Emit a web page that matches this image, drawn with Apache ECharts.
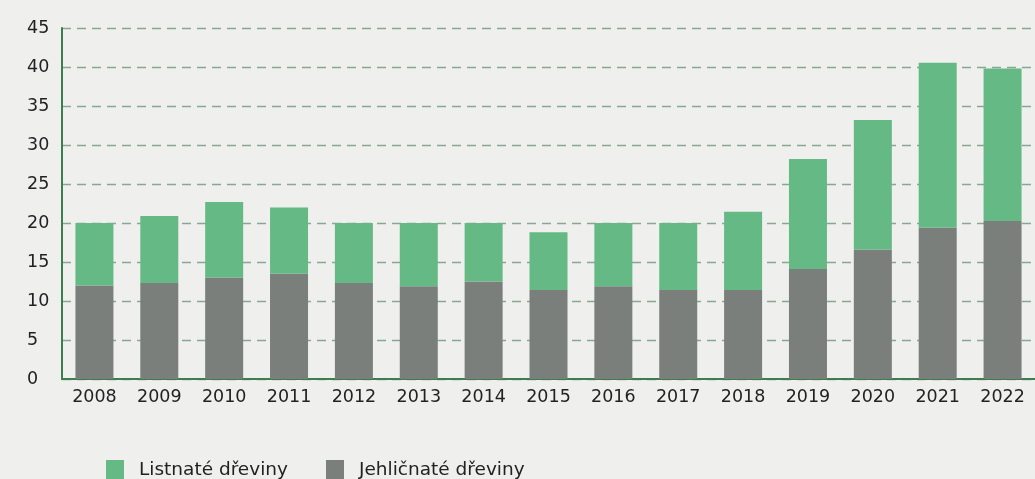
<!DOCTYPE html>
<html>
<head>
<meta charset="utf-8">
<script src="https://cdn.jsdelivr.net/npm/echarts@6/dist/echarts.min.js"></script>
<style>
  html, body { margin: 0; padding: 0; background: #efefee; }
  #chart { width: 1035px; height: 479px; }
</style>
</head>
<body>
<div id="chart"></div>
<script>
const years = ['2008','2009','2010','2011','2012','2013','2014','2015','2016','2017','2018','2019','2020','2021','2022'];
const jehlicnate = [12.0, 12.3, 13.0, 13.5, 12.3, 11.9, 12.5, 11.4, 11.9, 11.4, 11.4, 14.1, 16.6, 19.4, 20.25];
const listnate = [8.0, 8.6, 9.7, 8.5, 7.7, 8.1, 7.5, 7.4, 8.1, 8.6, 10.05, 14.1, 16.6, 21.15, 19.55];
const yTicks = { min: 0, max: 45, interval: 5 };

const FONT = 'DejaVu Sans';
const chart = echarts.init(document.getElementById('chart'), null, { renderer: 'canvas' });
chart.setOption({
  backgroundColor: '#efefee',
  animation: false,
  textStyle: { fontFamily: FONT },
  grid: { left: 62, top: 28, width: 986, height: 351, containLabel: false },
  legend: {
    data: ['Listnaté dřeviny', 'Jehličnaté dřeviny'],
    left: 106, top: 460, padding: 0,
    itemWidth: 18, itemHeight: 20, itemGap: 38,
    icon: 'rect',
    textStyle: { fontFamily: FONT, fontSize: 18.5, color: '#222', padding: [0, 0, 0, 10] }
  },
  xAxis: {
    type: 'category',
    data: years,
    axisLine: { lineStyle: { color: '#3e7d4f', width: 2 } },
    axisTick: { show: false },
    axisLabel: { color: '#222', fontSize: 17.5, margin: 9, fontFamily: FONT }
  },
  yAxis: {
    type: 'value',
    min: yTicks.min, max: yTicks.max, interval: yTicks.interval,
    axisLine: { show: true, lineStyle: { color: '#3e7d4f', width: 2 } },
    axisTick: { show: false },
    axisLabel: { color: '#222', fontSize: 17.5, align: 'left', margin: 35, fontFamily: FONT },
    splitLine: { lineStyle: { color: '#86a88e', type: [9, 6], width: 1.3 } }
  },
  series: [
    {
      name: 'Jehličnaté dřeviny', type: 'bar', stack: 'total',
      data: jehlicnate, barWidth: 38,
      itemStyle: { color: '#7a7f7c' }
    },
    {
      name: 'Listnaté dřeviny', type: 'bar', stack: 'total',
      data: listnate, barWidth: 38,
      itemStyle: { color: '#65b985' }
    }
  ]
});
</script>
</body>
</html>
